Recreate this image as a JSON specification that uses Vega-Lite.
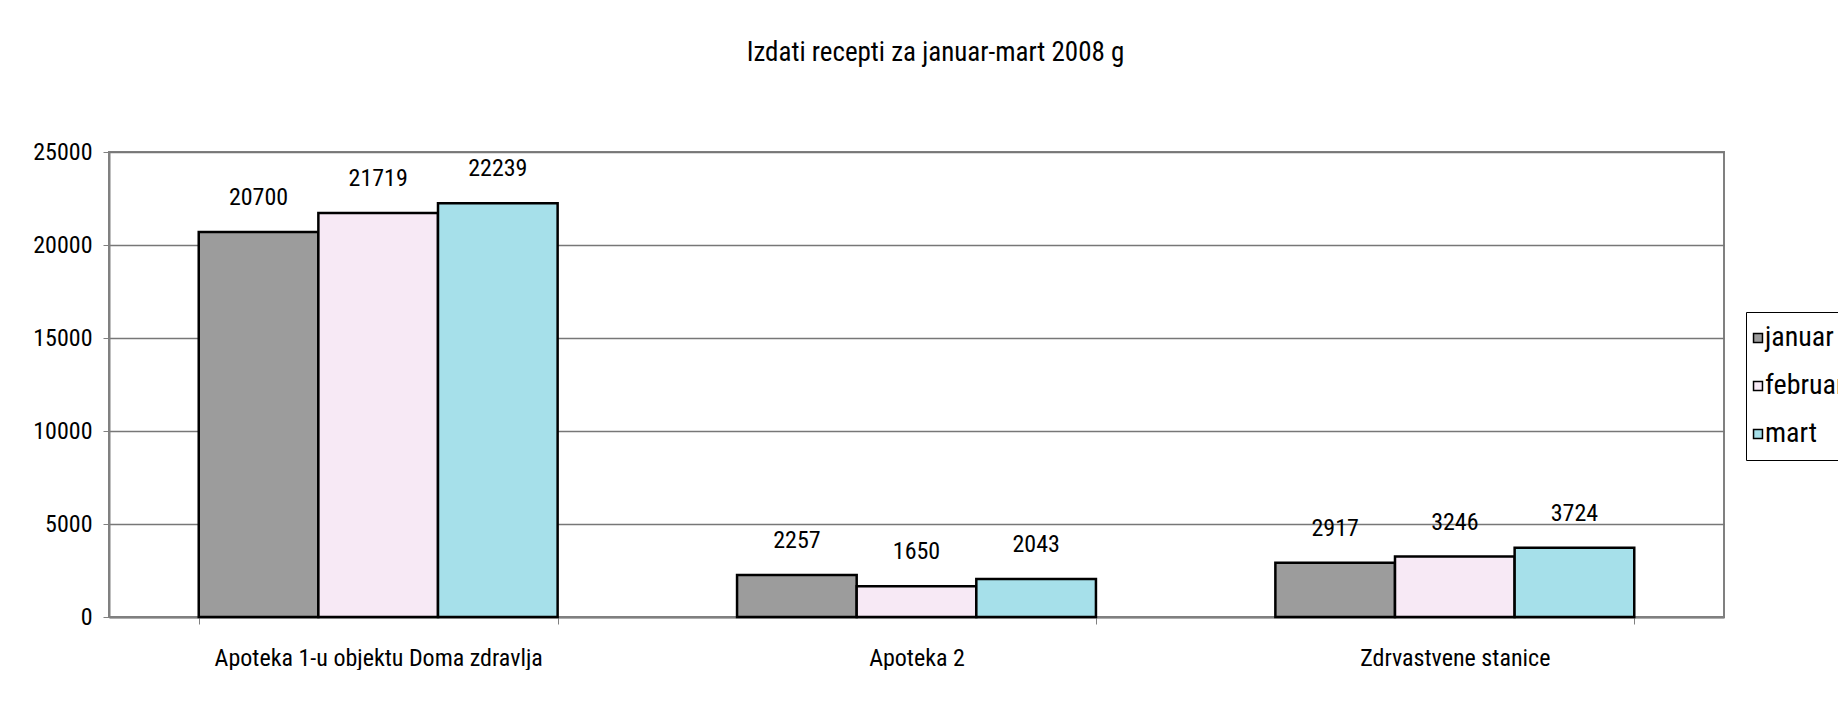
{
  "$schema": "https://vega.github.io/schema/vega-lite/v6.json",
  "width": 1615,
  "height": 465,
  "padding": {"left": 32, "top": 39, "right": 0, "bottom": 0},
  "background": "white",
  "title": {
    "text": "Izdati recepti za januar-mart 2008 g",
    "fontSize": 27,
    "fontWeight": "normal",
    "color": "black",
    "anchor": "middle",
    "dx": 19,
    "offset": 73
  },
  "data": {
    "values": [
      {"mjesto": "Apoteka 1-u objektu Doma zdravlja", "mjesec": "januar", "broj": 20700},
      {"mjesto": "Apoteka 1-u objektu Doma zdravlja", "mjesec": "februar", "broj": 21719},
      {"mjesto": "Apoteka 1-u objektu Doma zdravlja", "mjesec": "mart", "broj": 22239},
      {"mjesto": "Apoteka 2", "mjesec": "januar", "broj": 2257},
      {"mjesto": "Apoteka 2", "mjesec": "februar", "broj": 1650},
      {"mjesto": "Apoteka 2", "mjesec": "mart", "broj": 2043},
      {"mjesto": "Zdrvastvene stanice", "mjesec": "januar", "broj": 2917},
      {"mjesto": "Zdrvastvene stanice", "mjesec": "februar", "broj": 3246},
      {"mjesto": "Zdrvastvene stanice", "mjesec": "mart", "broj": 3724}
    ]
  },
  "encoding": {
    "x": {
      "field": "mjesto",
      "type": "nominal",
      "sort": null,
      "scale": {"paddingInner": 0.3333, "paddingOuter": 0.1667},
      "axis": {
        "title": null,
        "labelAngle": 0,
        "tickBand": "extent",
        "labelFontSize": 24,
        "labelPadding": 22,
        "tickSize": 7,
        "tickColor": "#808080",
        "domainColor": "#808080",
        "domainWidth": 2,
        "grid": false,
        "labelColor": "black",
        "labelLimit": 0
      }
    },
    "xOffset": {
      "field": "mjesec",
      "type": "nominal",
      "sort": ["januar", "februar", "mart"],
      "scale": {"paddingInner": 0, "paddingOuter": 0}
    },
    "y": {
      "field": "broj",
      "type": "quantitative",
      "scale": {"domain": [0, 25000], "nice": false},
      "axis": {
        "title": null,
        "values": [0, 5000, 10000, 15000, 20000, 25000],
        "format": "d",
        "grid": true,
        "gridColor": "#777777",
        "gridWidth": 1.5,
        "tickSize": 6,
        "tickColor": "#808080",
        "domainColor": "#808080",
        "domainWidth": 2,
        "labelPadding": 11,
        "labelFontSize": 24,
        "labelColor": "black",
        "labelFlush": false,
        "labelOverlap": false
      }
    }
  },
  "layer": [
    {
      "mark": {"type": "bar", "stroke": "black", "strokeWidth": 2.5},
      "encoding": {
        "color": {
          "field": "mjesec",
          "type": "nominal",
          "sort": ["januar", "februar", "mart"],
          "scale": {"range": ["#9c9c9c", "#f7e9f5", "#a6e0ea"]},
          "legend": {
            "orient": "none",
            "legendX": 1637,
            "legendY": 160,
            "title": null,
            "strokeColor": "black",
            "fillColor": "white",
            "padding": 12,
            "symbolType": "square",
            "symbolSize": 80,
            "symbolOffset": -14,
            "symbolStrokeColor": "black",
            "symbolStrokeWidth": 1.5,
            "labelFontSize": 28,
            "labelColor": "black",
            "labelOffset": -7,
            "rowPadding": 20
          }
        }
      }
    },
    {
      "mark": {"type": "text", "baseline": "alphabetic", "dy": -27, "fontSize": 24, "color": "black"},
      "encoding": {
        "text": {"field": "broj", "type": "quantitative", "format": "d"}
      }
    }
  ],
  "config": {
    "font": "'Roboto Condensed', 'DejaVu Sans Condensed', sans-serif",
    "view": {"stroke": "#808080", "strokeWidth": 2}
  }
}
